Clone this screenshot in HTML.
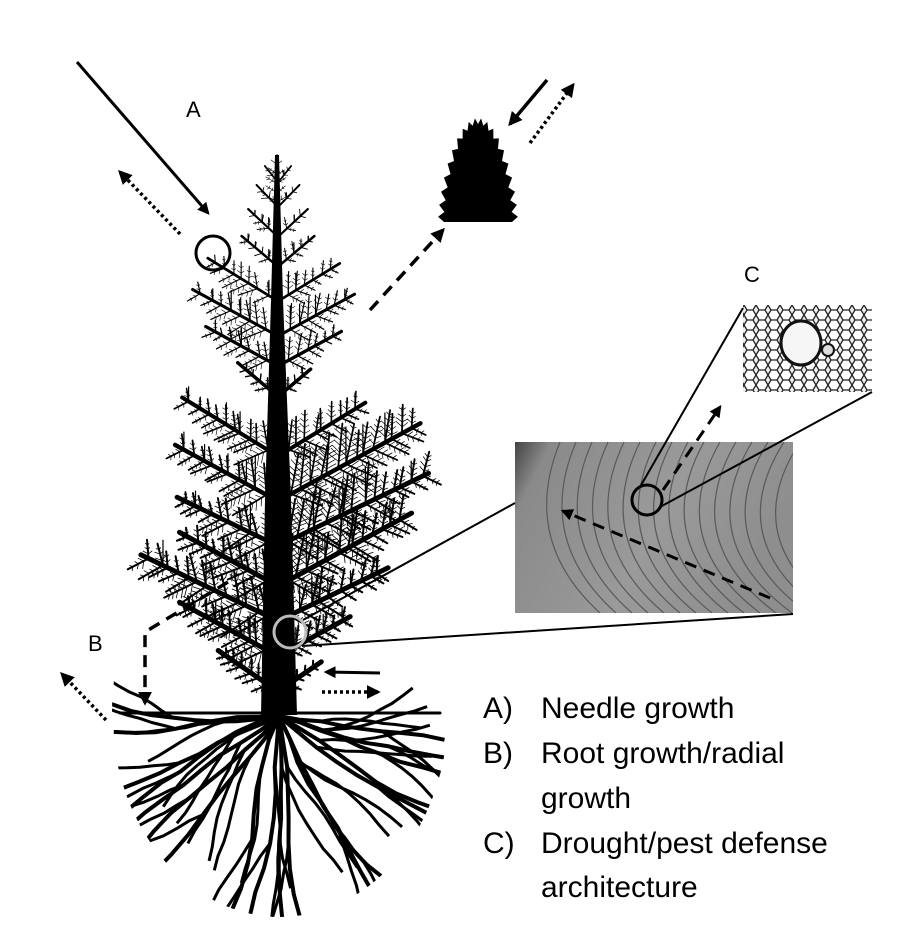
<!DOCTYPE html>
<html><head><meta charset="utf-8"><style>
html,body{margin:0;padding:0;background:#fff}
svg{display:block}
text{font-family:"Liberation Sans",sans-serif}
</style></head><body>
<svg id="s" width="905" height="935" viewBox="0 0 905 935" xmlns="http://www.w3.org/2000/svg">
<defs>
<marker id="ah" viewBox="0 0 10 10" refX="8" refY="5" markerWidth="4" markerHeight="4" orient="auto"><path d="M0,0L10,5L0,10z" fill="#000"/></marker>
<pattern id="hex" width="12" height="10" patternUnits="userSpaceOnUse"><rect width="12" height="10" fill="#eee"/><path d="M0,5 L3,0 H9 L12,5 L9,10 H3 Z" fill="#fff" stroke="#222" stroke-width="1.3"/></pattern>
<linearGradient id="wood" x1="0" y1="0" x2="1" y2="0.3"><stop offset="0" stop-color="#444"/><stop offset="0.12" stop-color="#8a8a8a"/><stop offset="0.6" stop-color="#9a9a9a"/><stop offset="1" stop-color="#8e8e8e"/></linearGradient>
<clipPath id="wc"><rect x="515" y="442" width="278" height="171"/></clipPath>
<clipPath id="rc"><ellipse cx="280" cy="712" rx="168" ry="205"/></clipPath>
</defs>
<g id="tree"></g>
<g id="roots" clip-path="url(#rc)"></g>
<rect x="515" y="442" width="278" height="171" fill="url(#wood)"/>
<g id="rings" fill="none" stroke="#5a5a5a" stroke-width="1.2" clip-path="url(#wc)"></g>
<rect x="743" y="305" width="129" height="87" fill="url(#hex)"/>
<ellipse cx="801" cy="343" rx="20" ry="22" fill="#f6f6f6" stroke="#111" stroke-width="3"/>
<circle cx="828" cy="350" r="6" fill="#ddd" stroke="#111" stroke-width="2"/>
<g stroke="#000" stroke-width="2" fill="none">
<line x1="302" y1="646" x2="793" y2="614"/>
<line x1="303" y1="620" x2="515" y2="503"/>
<line x1="640" y1="487" x2="743" y2="308"/>
<line x1="660" y1="507" x2="872" y2="392"/>
</g>
<circle cx="647" cy="500" r="15" fill="none" stroke="#000" stroke-width="3"/>
<circle cx="290" cy="632" r="16" fill="none" stroke="#bbb" stroke-width="3"/>
<circle cx="213" cy="253" r="17" fill="none" stroke="#000" stroke-width="3"/>
<g stroke="#000" fill="none">
<line x1="77" y1="62" x2="208" y2="213" stroke-width="3" marker-end="url(#ah)"/>
<line x1="180" y1="234" x2="120" y2="172" stroke-width="3.5" stroke-dasharray="3,3" marker-end="url(#ah)"/>
<line x1="370" y1="310" x2="443" y2="230" stroke-width="3.5" stroke-dasharray="12,8" marker-end="url(#ah)"/>
<line x1="547" y1="80" x2="510" y2="124" stroke-width="3.5" marker-end="url(#ah)"/>
<line x1="530" y1="143" x2="573" y2="85" stroke-width="3.5" stroke-dasharray="3,3" marker-end="url(#ah)"/>
<path d="M228,582 L145,632 L145,703" stroke-width="3.5" stroke-dasharray="12,8" marker-end="url(#ah)"/>
<line x1="106" y1="720" x2="62" y2="674" stroke-width="3.5" stroke-dasharray="3,3" marker-end="url(#ah)"/>
<line x1="380" y1="673" x2="326" y2="672" stroke-width="3" marker-end="url(#ah)"/>
<line x1="322" y1="692" x2="378" y2="692" stroke-width="3.5" stroke-dasharray="3,3" marker-end="url(#ah)"/>
<line x1="770" y1="598" x2="563" y2="511" stroke-width="3" stroke-dasharray="12,8" marker-end="url(#ah)"/>
<line x1="663" y1="490" x2="720" y2="407" stroke-width="3" stroke-dasharray="12,8" marker-end="url(#ah)"/>
</g>
<path id="cone" fill="#000"/>
<text x="186" y="117" font-size="22">A</text>
<text x="744" y="282" font-size="22">C</text>
<text x="88" y="651" font-size="22">B</text>
<g font-size="30" fill="#000">
<text x="483" y="718">A)</text><text x="541" y="718">Needle growth</text>
<text x="483" y="763">B)</text><text x="541" y="763">Root growth/radial</text>
<text x="541" y="808">growth</text>
<text x="483" y="853">C)</text><text x="541" y="853">Drought/pest defense</text>
<text x="541" y="897">architecture</text>
</g>
</svg>
<script>
(function(){
var seed=7;function r(){seed=(seed*16807)%2147483647;return seed/2147483647;}
var out=[];
function L(x1,y1,x2,y2,w){out.push('<line x1="'+x1.toFixed(1)+'" y1="'+y1.toFixed(1)+'" x2="'+x2.toFixed(1)+'" y2="'+y2.toFixed(1)+'" stroke="#000" stroke-width="'+w+'" stroke-linecap="round"/>');}
function fern(x,y,ang,len,w,depth){
  var ex=x+Math.cos(ang)*len, ey=y+Math.sin(ang)*len;
  L(x,y,ex,ey,w);
  if(depth<=0||len<8)return;
  var n=Math.max(2,Math.floor(len/(depth==2?11:6)));
  for(var i=1;i<=n;i++){
    var t=i/(n+1)+(r()-0.5)*0.05;var px=x+(ex-x)*t,py=y+(ey-y)*t;
    var sl=len*0.32*(1-t*0.6)*(0.7+r()*0.5);
    fern(px,py,ang-0.85-r()*0.2,sl,Math.max(0.6,w*0.4),depth-1);
    fern(px,py,ang+0.85+r()*0.2,sl*0.8,Math.max(0.6,w*0.4),depth-1);
    if(depth==2&&r()<0.4){L(px,py,px,py-sl*0.9,1.2);}
  }
}
out.push('<polygon points="275,155 279,155 283,300 291,500 297,715 261,715 265,500 271,300" fill="#000"/>');
var tiers=[[180,18,18,0.9],[205,28,28,0.8],[235,38,38,0.75],[265,45,45,0.7],[300,80,70,0.55],[335,95,85,0.5],[365,80,70,0.5],[395,50,40,0.7],[455,110,100,0.55],[500,115,160,0.5],[545,110,165,0.45],[585,110,150,0.5],[620,150,120,0.45],[655,110,80,0.5],[690,70,50,0.6]];
tiers.forEach(function(t){
  var y=t[0];var w=Math.min(5,1.5+(y-150)/120);
  fern(276,y,Math.PI+t[3],t[1],w,2);
  fern(280,y,-t[3],t[2],w,2);
});
fern(277,210,-Math.PI/2,55,1.5,2);
L(120,713,440,713,3);
document.getElementById('tree').innerHTML=out.join('');
var ro=[];
function root(x,y,ang,len,w,d){
  var segs=8,cx=x,cy=y,a=ang,pts=[[cx,cy]];
  for(var i=0;i<segs;i++){a+=(r()-0.5)*0.3;cx+=Math.cos(a)*len/segs;cy+=Math.sin(a)*len/segs;pts.push([cx,cy]);}
  ro.push('<polyline points="'+pts.map(function(p){return p[0].toFixed(1)+','+p[1].toFixed(1)}).join(' ')+'" fill="none" stroke="#000" stroke-width="'+w+'" stroke-linejoin="round"/>');
  if(d>0){for(var j=0;j<2;j++){var p=pts[2+j*3];root(p[0],p[1],a+(j?0.28:-0.28),len*0.6,Math.max(3,w*0.75),d-1);}}
}
var angs=[3.1,3.0,2.85,2.7,2.5,2.3,2.1,1.9,1.7,1.55,1.4,1.2,1.0,0.8,0.6,0.4,0.2,0.06];
angs.forEach(function(a){
  var s=Math.abs(Math.sin(a));
  root(279,716,a,165+40*s,4,1);
});
document.getElementById('roots').innerHTML=ro.join('');
var rg=[];
for(var i=0;i<16;i++){var o=i*16;rg.push('<path d="M'+(560+o)+',442 Q'+(520+o*0.9)+','+(540)+' '+(600+o)+',613"/>');}
document.getElementById('rings').innerHTML=rg.join('');
var pts=[];
for(var k=0;k<=40;k++){var t=k/40*Math.PI;var cx=478;
 var x=cx-Math.cos(t)*36, y=222-Math.sin(t)*100*(0.6+0.4*Math.sin(t));
 var rr=(k%2)?4:-2;pts.push((x-Math.cos(t)*rr).toFixed(1)+','+(y-Math.sin(t)*rr).toFixed(1));}
pts.push('510,222','450,222');
document.getElementById('cone').setAttribute('d','M'+pts.join(' L')+' Z');
})();
</script>
</body></html>
